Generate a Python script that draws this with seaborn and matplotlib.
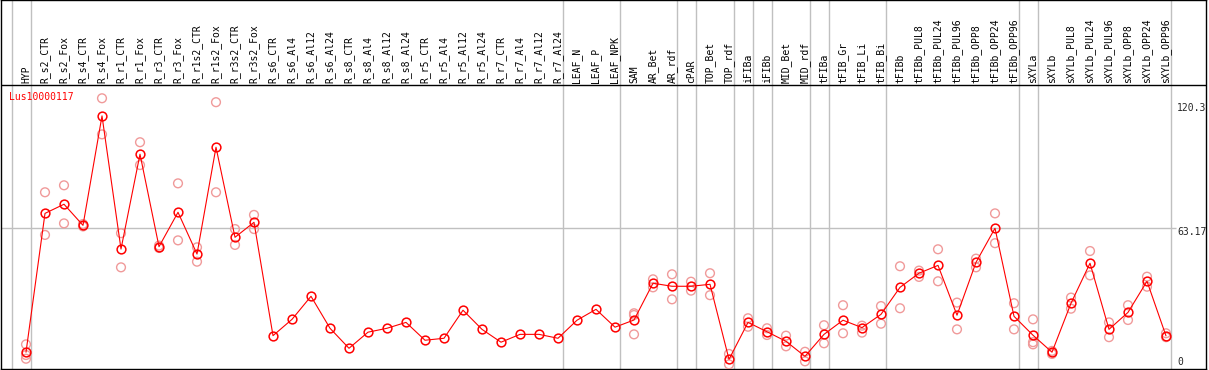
"""Expression profile of Lus10000117 across tissues / treatments."""

import matplotlib

matplotlib.use("Agg", force=True)
import matplotlib.pyplot as plt
import pandas as pd
import seaborn as sns

gene_name = "Lus10000117"

categories = [
    "HYP", "R_s2_CTR", "R_s2_Fox", "R_s4_CTR", "R_s4_Fox", "R_r1_CTR", "R_r1_Fox",
    "R_r3_CTR", "R_r3_Fox", "R_r1s2_CTR", "R_r1s2_Fox", "R_r3s2_CTR", "R_r3s2_Fox",
    "R_s6_CTR", "R_s6_Al4", "R_s6_Al12", "R_s6_Al24", "R_s8_CTR", "R_s8_Al4",
    "R_s8_Al12", "R_s8_Al24", "R_r5_CTR", "R_r5_Al4", "R_r5_Al12", "R_r5_Al24",
    "R_r7_CTR", "R_r7_Al4", "R_r7_Al12", "R_r7_Al24", "LEAF_N", "LEAF_P", "LEAF_NPK",
    "SAM", "AR_Bet", "AR_rdf", "cPAR", "TOP_Bet", "TOP_rdf", "iFIBa", "iFIBb",
    "MID_Bet", "MID_rdf", "tFIBa", "tFIB_Gr", "tFIB_Li", "tFIB_Bi", "tFIBb",
    "tFIBb_PUL8", "tFIBb_PUL24", "tFIBb_PUL96", "tFIBb_OPP8", "tFIBb_OPP24", "tFIBb_OPP96",
    "sXYLa", "sXYLb", "sXYLb_PUL8", "sXYLb_PUL24", "sXYLb_PUL96", "sXYLb_OPP8",
    "sXYLb_OPP24", "sXYLb_OPP96",
]

means = [
    6.2, 70.0, 74.2, 64.5, 114.8, 53.6, 97.2, 54.7, 70.5, 51.3, 100.4, 59.0, 65.9,
    13.8, 21.3, 31.9, 17.2, 8.0, 15.4, 17.2, 19.9, 11.7, 12.6, 25.5, 16.7, 10.8,
    14.4, 14.4, 12.6, 20.9, 25.9, 17.7,
    21.0, 37.9, 36.5, 36.5, 37.4, 2.9, 19.9, 15.6, 11.2, 4.3, 14.4, 20.9, 17.5,
    23.6, 36.0, 42.5, 46.1, 23.2, 47.5, 63.17, 22.7, 14.0, 6.2, 28.7, 47.1, 16.7,
    24.5, 38.8, 13.7,
]

replicates = [
    [9.8, 4.9, 3.2], [79.7, 60.1], [82.9, 65.4], [65.1, 64.0], [122.9, 106.3],
    [60.9, 45.2], [102.7, 92.2], [55.2, 54.1], [83.8, 57.6], [54.4, 47.8],
    [121.1, 79.7], [62.8, 55.5], [69.3, 62.8],
    [], [], [], [], [], [], [], [], [], [], [], [], [], [], [], [], [], [], [],
    [24.1, 23.3, 14.4], [39.7, 36.0], [42.0, 30.5], [38.6, 34.5], [42.5, 32.4],
    [5.4, 0.6], [21.8, 17.9], [17.2, 14.1], [13.8, 8.9], [6.4, 2.0], [18.6, 10.3],
    [27.8, 14.9], [18.4, 15.2], [27.4, 19.3], [45.7, 26.4], [43.7, 40.8],
    [53.5, 38.8], [29.0, 16.7], [49.2, 45.2], [70.0, 56.3], [28.7, 16.7],
    [21.3, 10.8, 9.8], [6.8, 5.4], [31.3, 26.2], [52.7, 41.5], [19.9, 13.1],
    [27.8, 21.0], [40.9, 36.3], [14.9, 13.1],
]

# separators are drawn just after these category indices
group_ends = [-1, 0, 28, 31, 34, 35, 37, 38, 39, 41, 42, 45, 52, 53, 60]

axis_max = 120.3
grid_value = 63.17

mean_df = pd.DataFrame({"pos": range(len(categories)), "value": means})
rep_df = pd.DataFrame(
    [(i, v) for i, reps in enumerate(replicates) for v in reps], columns=["pos", "value"]
)

sns.set_style("white")
plt.rcParams["font.family"] = ["DejaVu Sans Mono", "DejaVu Sans"]

fig = plt.figure(figsize=(12.09, 3.70), dpi=100)
ax = fig.add_axes([1 / 1209, 1 / 370, 1205 / 1209, 369 / 370])

x_left, x_right = -25 / 19, 1180 / 19
ax.set_xlim(x_left, x_right)
ax.set_ylim(-1.52, 168.06)
header_y = 129.0

for k in group_ends:
    ax.axvline(k + 0.25, color="#c0c0c0", linewidth=1.0, zorder=1)
ax.hlines(grid_value, x_left, 60.53, color="#c0c0c0", linewidth=1.0, zorder=1)
ax.axhline(header_y, color="black", linewidth=1.0, zorder=2)

sns.scatterplot(
    data=rep_df, x="pos", y="value", ax=ax, marker="o", s=40,
    facecolor="none", edgecolor="#f09a9a", linewidth=1.0, zorder=3, legend=False,
)
sns.lineplot(
    data=mean_df, x="pos", y="value", ax=ax, color="red", linewidth=0.8,
    marker="o", markersize=6.3, markerfacecolor="none", markeredgecolor="red",
    markeredgewidth=1.1, zorder=4,
)

for i, name in enumerate(categories):
    ax.text(i, 129.9, name, rotation=90, ha="center", va="bottom", fontsize=7, color="black")

ax.text(-0.88, 123.6, gene_name, ha="left", va="center", fontsize=7, color="red")

x_lab = 60.58
ax.annotate(f"{axis_max}", (x_lab, axis_max), xytext=(0, -3.2), textcoords="offset points",
            ha="left", va="center", fontsize=7)
ax.annotate(f"{grid_value}", (x_lab, grid_value), xytext=(0, -2.9), textcoords="offset points",
            ha="left", va="center", fontsize=7)
ax.annotate("0", (x_lab, 0), xytext=(0, 2.9), textcoords="offset points",
            ha="left", va="center", fontsize=7)

ax.set_xticks([])
ax.set_yticks([])
ax.set_xlabel("")
ax.set_ylabel("")
for spine in ax.spines.values():
    spine.set_color("black")
    spine.set_linewidth(1.0)

fig.savefig("out.png", dpi=100)
